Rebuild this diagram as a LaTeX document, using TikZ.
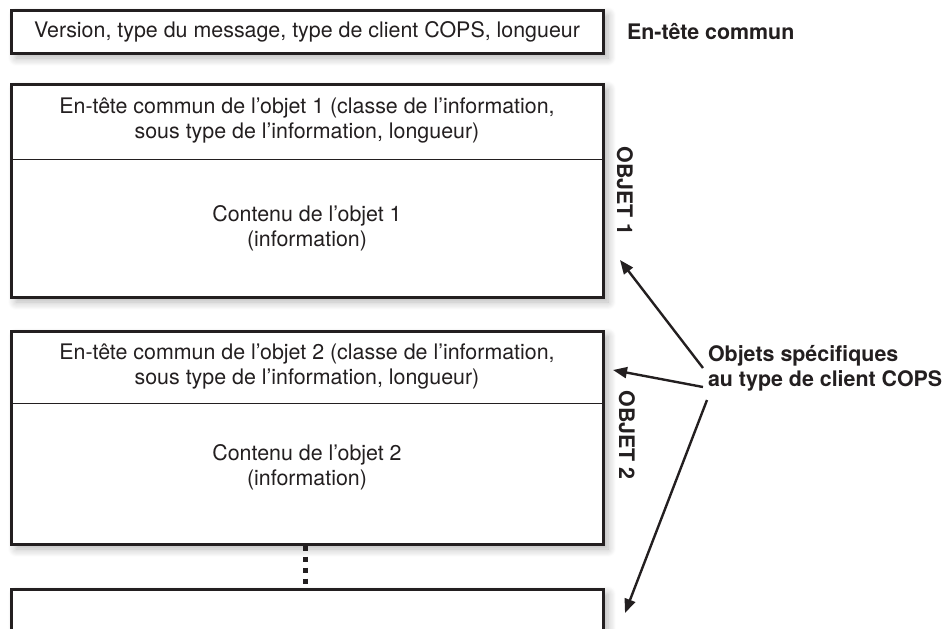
\documentclass[tikz,border=0pt]{standalone}
\usepackage{fontspec}
\setmainfont{TeX Gyre Heros}
\usetikzlibrary{arrows.meta, positioning, shadows.blur}
\definecolor{framegray}{RGB}{35,31,32}
\definecolor{textgray}{RGB}{35,31,32}

\begin{document}
\begin{tikzpicture}[
  x=0.5pt, y=-0.5pt,
  frame/.style={draw=framegray, line width=1.5pt, fill=white, minimum width=296pt, inner sep=0pt, blur shadow={shadow xshift=2.5pt, shadow yshift=-2.5pt, shadow blur radius=4pt, shadow blur steps=8, shadow opacity=30}},
  part/.style={minimum width=296pt, inner sep=0pt, align=center, text=textgray, font=\fontsize{10.7}{12.5}\selectfont},
  txt/.style={align=center, text=textgray, font=\fontsize{10.7}{12.5}\selectfont},
  lbl/.style={text=textgray, font=\fontsize{10.7}{12.5}\selectfont\bfseries},
  sep/.style={draw=framegray, line width=0.7pt},
  dots/.style={draw=framegray, line width=2.5pt, dash pattern=on 2.5pt off 3pt},
  arr/.style={-{Triangle[length=7pt, width=5.5pt]}, draw=framegray, line width=1.2pt}
]
  \useasboundingbox (0,0) rectangle (944,628);
  \clip (0,0) rectangle (944,628);

  % en-tete du message
  \node[frame, txt, minimum height=21.5pt] (entete) at (307,31.5) {Version, type du message, type de client COPS, longueur};
  \node[lbl, anchor=west] (communlbl) at (620,32) {En-tête commun};

  % objet 1
  \node[frame, minimum height=106.5pt] (obj1) at (307,190.5) {};
  \node[part, minimum height=38pt, anchor=north] (obj1head) at (obj1.north) {En-tête commun de l’objet 1 (classe de l’information,\\sous type de l’information, longueur)};
  \node[part, minimum height=68.5pt, anchor=north] (obj1body) at (obj1head.south) {Contenu de l’objet 1\\(information)};
  \draw[sep] (obj1head.south west) -- (obj1head.south east);
  \node[lbl, rotate=-90] (objet1) at (625,191) {OBJET 1};

  % objet 2
  \node[frame, minimum height=106.5pt] (obj2) at (307,437.5) {};
  \node[part, minimum height=36.5pt, anchor=north] (obj2head) at (obj2.north) {En-tête commun de l’objet 2 (classe de l’information,\\sous type de l’information, longueur)};
  \node[part, minimum height=64pt, anchor=north] (obj2body) at (obj2head.south) {Contenu de l’objet 2\\(information)};
  \draw[sep] (obj2head.south west) -- (obj2head.south east);
  \node[lbl, rotate=-90] (objet2) at (627,435) {OBJET 2};

  % objet suivant
  \node[frame, minimum height=40pt] (suite) at (307,629) {};
  \draw[dots] ([xshift=-1pt]obj2.south) -- ([xshift=-1pt]suite.north);

  % objets specifiques
  \node[lbl, align=left, anchor=west] (specif) at (701,368) {Objets spécifiques\\au type de client COPS};
  \coordinate (tip1) at (620,260);
  \coordinate (tip2) at (613,370);
  \coordinate (tip3) at (625,613);
  \draw[arr] ([xshift=1pt]specif.west) -- (tip1);
  \draw[arr] ([xshift=1pt, yshift=-9.5pt]specif.west) -- (tip2);
  \draw[arr] ([xshift=3pt, yshift=-16pt]specif.west) -- (tip3);
\end{tikzpicture}
\end{document}
